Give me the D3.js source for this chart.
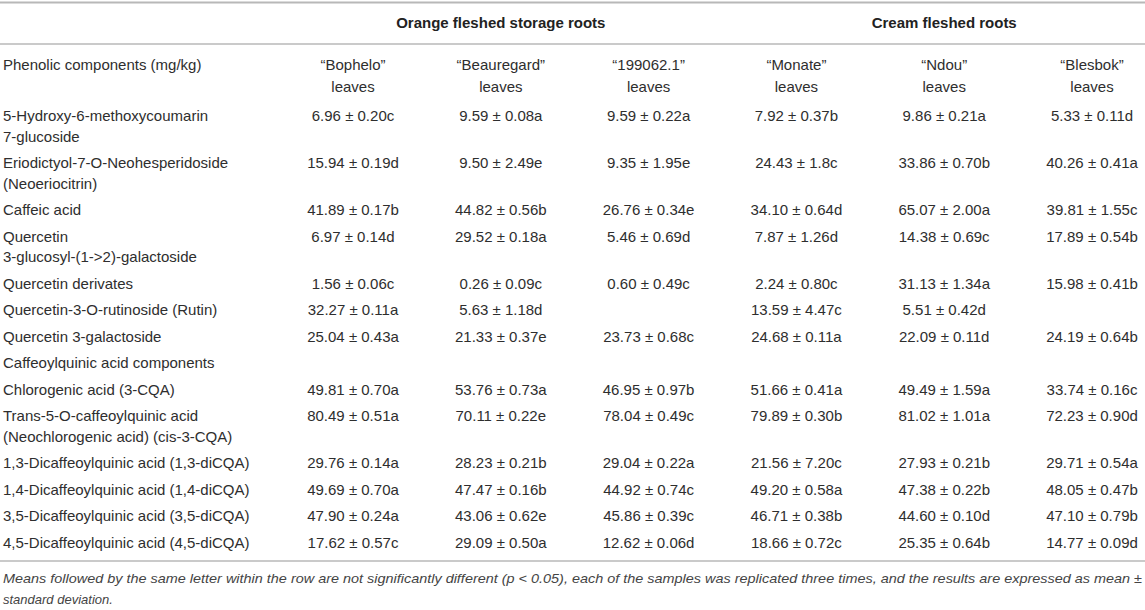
<!DOCTYPE html>
<html>
<head>
<meta charset="utf-8">
<script src="https://cdn.jsdelivr.net/npm/d3@7"></script>
<style>
  body { margin: 0; background: #fff; }
  svg text { font-family: "Liberation Sans", Arial, sans-serif; fill: #2e2e2e; }
</style>
</head>
<body>
<svg id="table"></svg>
<script>
const groups = ["Orange fleshed storage roots", "Cream fleshed roots"];
const cultivars = ["“Bophelo”", "“Beauregard”", "“199062.1”", "“Monate”", "“Ndou”", "“Blesbok”"];
const cultivarGroup = [0, 0, 0, 1, 1, 1];

const components = [
  ["5-Hydroxy-6-methoxycoumarin", "7-glucoside"],
  ["Eriodictyol-7-O-Neohesperidoside", "(Neoeriocitrin)"],
  ["Caffeic acid"],
  ["Quercetin", "3-glucosyl-(1->2)-galactoside"],
  ["Quercetin derivates"],
  ["Quercetin-3-O-rutinoside (Rutin)"],
  ["Quercetin 3-galactoside"],
  ["Caffeoylquinic acid components"],
  ["Chlorogenic acid (3-CQA)"],
  ["Trans-5-O-caffeoylquinic acid", "(Neochlorogenic acid) (cis-3-CQA)"],
  ["1,3-Dicaffeoylquinic acid (1,3-diCQA)"],
  ["1,4-Dicaffeoylquinic acid (1,4-diCQA)"],
  ["3,5-Dicaffeoylquinic acid (3,5-diCQA)"],
  ["4,5-Dicaffeoylquinic acid (4,5-diCQA)"]
];

const bophelo = ["6.96 ± 0.20c", "15.94 ± 0.19d", "41.89 ± 0.17b", "6.97 ± 0.14d", "1.56 ± 0.06c", "32.27 ± 0.11a", "25.04 ± 0.43a", "", "49.81 ± 0.70a", "80.49 ± 0.51a", "29.76 ± 0.14a", "49.69 ± 0.70a", "47.90 ± 0.24a", "17.62 ± 0.57c"];
const beauregard = ["9.59 ± 0.08a", "9.50 ± 2.49e", "44.82 ± 0.56b", "29.52 ± 0.18a", "0.26 ± 0.09c", "5.63 ± 1.18d", "21.33 ± 0.37e", "", "53.76 ± 0.73a", "70.11 ± 0.22e", "28.23 ± 0.21b", "47.47 ± 0.16b", "43.06 ± 0.62e", "29.09 ± 0.50a"];
const line199062 = ["9.59 ± 0.22a", "9.35 ± 1.95e", "26.76 ± 0.34e", "5.46 ± 0.69d", "0.60 ± 0.49c", "", "23.73 ± 0.68c", "", "46.95 ± 0.97b", "78.04 ± 0.49c", "29.04 ± 0.22a", "44.92 ± 0.74c", "45.86 ± 0.39c", "12.62 ± 0.06d"];
const monate = ["7.92 ± 0.37b", "24.43 ± 1.8c", "34.10 ± 0.64d", "7.87 ± 1.26d", "2.24 ± 0.80c", "13.59 ± 4.47c", "24.68 ± 0.11a", "", "51.66 ± 0.41a", "79.89 ± 0.30b", "21.56 ± 7.20c", "49.20 ± 0.58a", "46.71 ± 0.38b", "18.66 ± 0.72c"];
const ndou = ["9.86 ± 0.21a", "33.86 ± 0.70b", "65.07 ± 2.00a", "14.38 ± 0.69c", "31.13 ± 1.34a", "5.51 ± 0.42d", "22.09 ± 0.11d", "", "49.49 ± 1.59a", "81.02 ± 1.01a", "27.93 ± 0.21b", "47.38 ± 0.22b", "44.60 ± 0.10d", "25.35 ± 0.64b"];
const blesbok = ["5.33 ± 0.11d", "40.26 ± 0.41a", "39.81 ± 1.55c", "17.89 ± 0.54b", "15.98 ± 0.41b", "", "24.19 ± 0.64b", "", "33.74 ± 0.16c", "72.23 ± 0.90d", "29.71 ± 0.54a", "48.05 ± 0.47b", "47.10 ± 0.79b", "14.77 ± 0.09d"];
const columns = [bophelo, beauregard, line199062, monate, ndou, blesbok];

const footnote = [
  "Means followed by the same letter within the row are not significantly different (p < 0.05), each of the samples was replicated three times, and the results are expressed as mean ±",
  "standard deviation."
];

const width = 1145, height = 610;
const svg = d3.select("#table").attr("width", width).attr("height", height);

// column centres
const x = d3.scalePoint().domain(cultivars).range([353, 1092]);

// row positions: each extra text line adds lineH
const rowStep = 26.5, lineH = 20.5;
const offsets = [];
let acc = 0;
components.forEach(c => { offsets.push(acc); acc += rowStep + (c.length - 1) * lineH; });
const y = d3.scaleLinear().domain([0, acc]).range([116, 116 + acc]);

function hline(yy, w) {
  svg.append("line")
    .attr("x1", 0).attr("x2", width)
    .attr("y1", yy).attr("y2", yy)
    .attr("stroke", "#b8b8b8")
    .attr("stroke-width", w);
}

hline(2.5, 2);
hline(44, 1.5);
hline(561, 1.5);

// group headers, centred over the middle column of each group
groups.forEach((g, gi) => {
  const cols = cultivars.filter((c, i) => cultivarGroup[i] === gi);
  svg.append("text")
    .attr("x", x(cols[1]))
    .attr("y", 23)
    .attr("dy", "0.35em")
    .attr("text-anchor", "middle")
    .attr("font-weight", "bold")
    .attr("font-size", 15)
    .style("fill", "#222")
    .text(g);
});

// column headers
svg.append("text")
  .attr("x", 3).attr("y", 65).attr("dy", "0.35em")
  .attr("font-size", 15)
  .text("Phenolic components (mg/kg)");

const head = svg.append("g").selectAll("g")
  .data(cultivars)
  .join("g")
  .attr("transform", d => `translate(${x(d)},0)`);
head.append("text").attr("y", 65).attr("dy", "0.35em")
  .attr("text-anchor", "middle").attr("font-size", 15).text(d => d);
head.append("text").attr("y", 87).attr("dy", "0.35em")
  .attr("text-anchor", "middle").attr("font-size", 15).text("leaves");

// row labels
const rows = svg.append("g").selectAll("g")
  .data(components)
  .join("g")
  .attr("transform", (d, i) => `translate(0,${y(offsets[i])})`);

rows.selectAll("text.label")
  .data(d => d)
  .join("text")
  .attr("class", "label")
  .attr("x", 3)
  .attr("y", (d, j) => j * lineH)
  .attr("dy", "0.35em")
  .attr("font-size", 15)
  .text(d => d);

// values (empty cells skipped)
rows.selectAll("text.val")
  .data((d, i) => columns.map((col, ci) => ({ c: cultivars[ci], v: col[i] })).filter(e => e.v))
  .join("text")
  .attr("class", "val")
  .attr("x", d => x(d.c))
  .attr("dy", "0.35em")
  .attr("text-anchor", "middle")
  .attr("font-size", 15)
  .text(d => d.v);

// footnote
svg.append("g").selectAll("text")
  .data(footnote)
  .join("text")
  .attr("x", 3)
  .attr("y", (d, i) => 578 + i * 21)
  .attr("dy", "0.35em")
  .attr("font-size", 13)
  .attr("font-style", "italic")
  .style("fill", "#444")
  .attr("textLength", (d, i) => i === 0 ? 1139 : null)
  .attr("lengthAdjust", "spacingAndGlyphs")
  .text(d => d);
</script>
</body>
</html>
